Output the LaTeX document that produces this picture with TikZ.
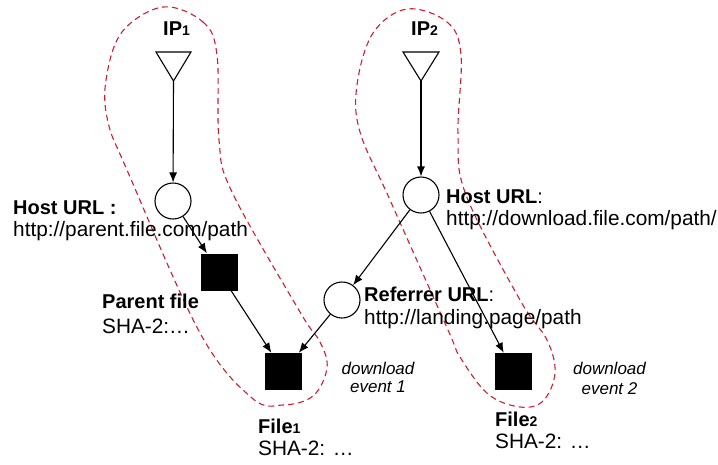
\documentclass[tikz,border=0pt]{standalone}
\usepackage{fontspec}
\setmainfont{Liberation Sans}
\usetikzlibrary{arrows.meta}
\definecolor{blobred}{RGB}{205,30,45}
\begin{document}
\begin{tikzpicture}[x=1pt,y=-1pt,
  txt/.style={inner sep=0pt, anchor=base west, font=\fontsize{20.8}{23}\selectfont},
  btxt/.style={inner sep=0pt, anchor=base west, font=\fontsize{20}{23}\selectfont\bfseries},
  itxt/.style={inner sep=0pt, anchor=base, font=\fontsize{17}{18}\selectfont\itshape},
  urlnode/.style={circle, draw, line width=1.1pt, fill=white, minimum size=36pt, inner sep=0pt},
  filenode/.style={rectangle, fill=black, minimum size=37pt, inner sep=0pt},
  conn/.style={line width=1.1pt, -{Latex[length=10pt,width=8pt]}},
  blob/.style={draw=blobred, dash pattern=on 6pt off 4pt, line width=1.1pt},
  tri/.style={draw, line width=1.1pt, line join=miter}
]
\useasboundingbox (0,0) rectangle (718,464);

% dashed groups
\draw[blob] plot[smooth cycle, tension=0.6] coordinates {
  (163,7) (203,22) (217,55) (219,140) (232,192) (300,312) (320,342) (327,368)
  (313,396) (283,405) (252,398) (200,333) (127,170) (108,122) (106,80) (122,32)};
\draw[blob] plot[smooth cycle, tension=0.6] coordinates {
  (407,9) (447,22) (461,55) (458,135) (466,195) (520,300) (547,340) (555,373)
  (543,401) (520,407) (488,394) (460,357) (448,330) (390,200) (360,132) (357,85) (373,33)};

% IP triangles
\draw[tri] (156,52) -- (191,52) -- (173.5,81) -- cycle;
\coordinate (t1) at (173.5,81);
\draw[tri] (403,52) -- (439,52) -- (421,81) -- cycle;
\coordinate (t2) at (421,81);

% nodes
\node[urlnode] (c1) at (173,201) {};
\node[urlnode] (c2) at (421,195) {};
\node[urlnode] (r) at (342,300) {};
\node[filenode] (p) at (219,272) {};
\node[filenode] (f1) at (283.5,371.5) {};
\node[filenode] (f2) at (513.5,371.5) {};

% connectors
\draw[conn] (t1) -- (c1);
\draw[conn] (t2) -- (c2);
\draw[conn] (c1) -- (p);
\draw[conn] (p) -- (f1);
\draw[conn] (r) -- (f1);
\draw[conn] (c2) -- (r);
\draw[conn] (c2) -- (f2);

% labels
\node[btxt] (ip1) at (163,35) {IP{\fontsize{14}{14}\selectfont 1}};
\node[btxt] (ip2) at (411,35) {IP{\fontsize{14}{14}\selectfont 2}};

\node[btxt] (hu1) at (13,214) {Host URL :};
\node[txt] (hu1u) at (13,236) {http://parent.file.com/path};

\node[btxt] (pf) at (102,308) {Parent file};
\node[txt] (pfs) at (102,333) {SHA-2:…};

\node[txt] (hu2) at (446,203) {\fontsize{20}{23}\selectfont\textbf{Host URL}:};
\node[txt] (hu2u) at (446,225) {http://download.file.com/path/};

\node[txt] (ru) at (364,301) {\fontsize{20}{23}\selectfont\textbf{Referrer URL}:};
\node[txt] (ruu) at (364,324) {http://landing.page/path};

\node[itxt] (d1a) at (378,374) {download};
\node[itxt] (d1b) at (378,392.5) {event 1};
\node[itxt] (d2a) at (609.5,374.5) {download};
\node[itxt] (d2b) at (609.5,394) {event 2};

\node[btxt] (fl1) at (258,433) {File{\fontsize{14}{14}\selectfont 1}};
\node[txt] (fl1s) at (258,455) {SHA-2: …};
\node[btxt] (fl2) at (495,426) {File{\fontsize{14}{14}\selectfont 2}};
\node[txt] (fl2s) at (495,448) {SHA-2: …};
\end{tikzpicture}
\end{document}
